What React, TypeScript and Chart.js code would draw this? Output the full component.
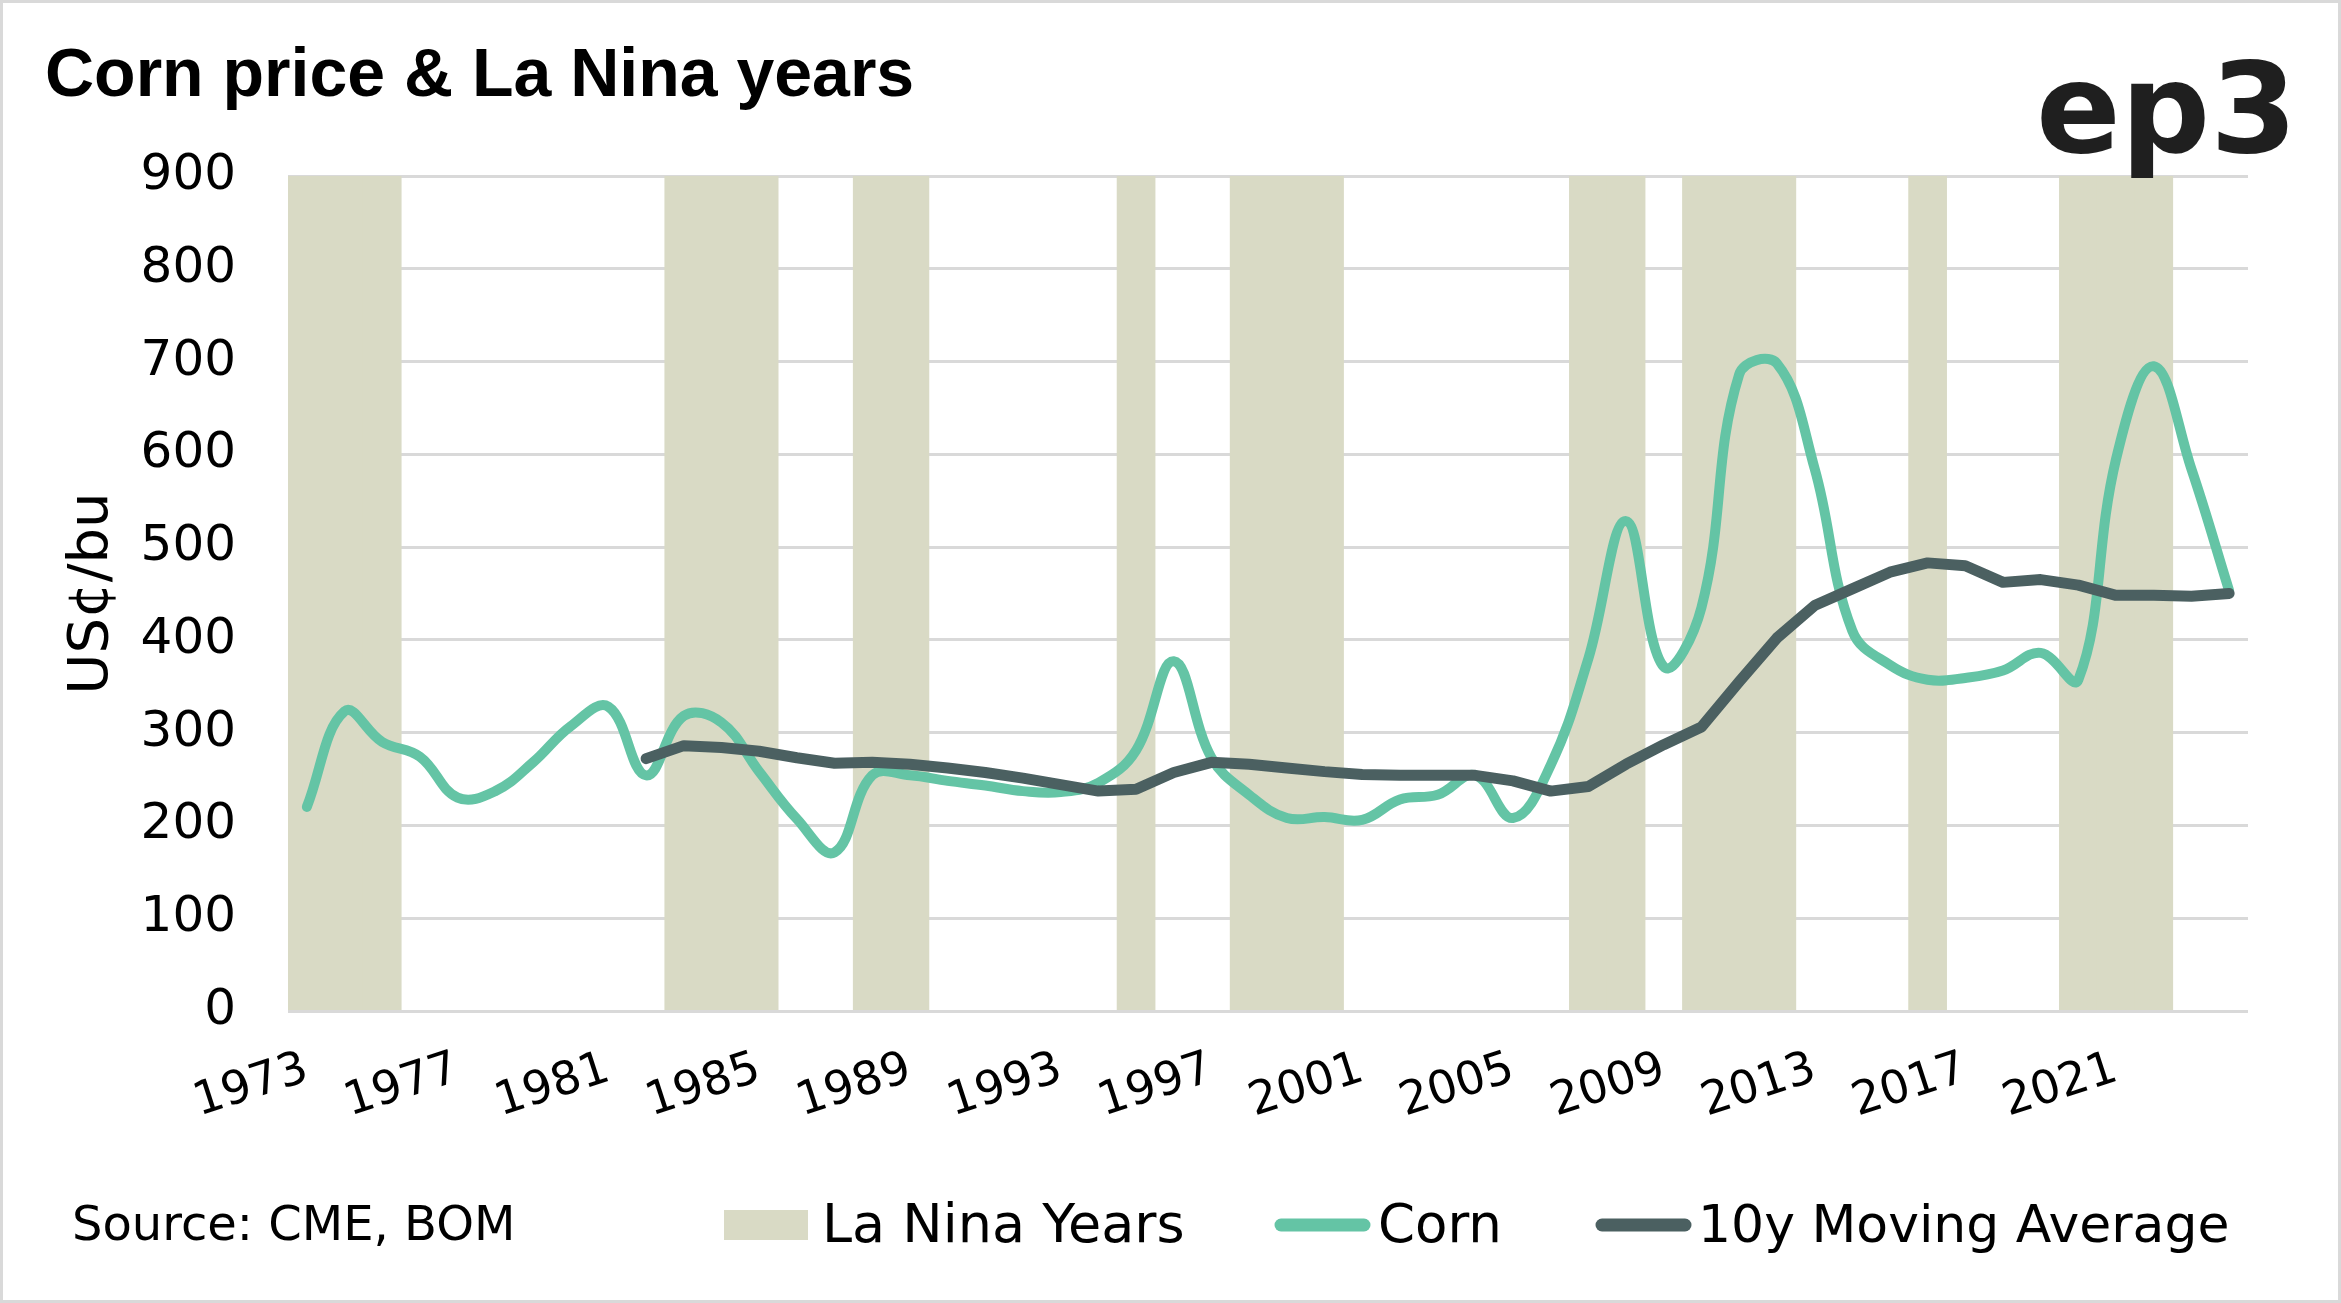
import React, { useEffect, useRef } from 'react';
import { Chart, registerables } from 'chart.js';

Chart.register(...registerables);

const W = 2341;
const H = 1303;

const TITLE = 'Corn price & La Nina years';
const SOURCE = 'Source: CME, BOM';
const LOGO = 'ep3';
const Y_TITLE = 'US¢/bu';

const years = [
  '1973', '1974', '1975', '1976', '1977', '1978', '1979', '1980', '1981', '1982',
  '1983', '1984', '1985', '1986', '1987', '1988', '1989', '1990', '1991', '1992',
  '1993', '1994', '1995', '1996', '1997', '1998', '1999', '2000', '2001', '2002',
  '2003', '2004', '2005', '2006', '2007', '2008', '2009', '2010', '2011', '2012',
  '2013', '2014', '2015', '2016', '2017', '2018', '2019', '2020', '2021', '2022',
  '2023', '2024',
];

const tickYears = [
  '1973', '1977', '1981', '1985', '1989', '1993', '1997', '2001', '2005', '2009',
  '2013', '2017', '2021',
];

const laNinaYears = [
  '1973', '1974', '1975', '1983', '1984', '1985', '1988', '1989', '1995', '1998',
  '1999', '2000', '2007', '2008', '2010', '2011', '2012', '2016', '2020', '2021',
  '2022',
];

const corn = [
  220, 323, 290, 274, 230, 237, 268, 307, 328, 254,
  318, 311, 258, 207, 171, 254, 254, 248, 243, 237,
  236, 246, 281, 377, 273, 233, 208, 209, 206, 228,
  233, 254, 208, 265, 380, 528, 371, 435, 686, 698,
  585, 410, 373, 357, 359, 367, 386, 357, 595, 695,
  584, 453,
];

const movingAvg = [
  null, null, null, null, null, null, null, null, null, 272,
  286, 284, 280, 273, 267, 268, 266, 262, 257, 251,
  244, 237, 239, 257, 268, 266, 262, 258, 255, 254,
  254, 254, 248, 237, 242, 266, 287, 306, 355, 402,
  437, 455, 473, 483, 480, 462, 465, 459, 448, 448,
  447, 450,
];

const Y_MIN = 0;
const Y_MAX = 900;
const Y_STEP = 100;

const BAND = '#d9dac5';
const CORN = '#64c4a5';
const MA = '#4b6061';
const GRID = '#d9d9d9';

const decorPlugin = {
  id: 'decor',
  beforeDraw(chart: any) {
    const ctx = chart.ctx;
    ctx.save();
    ctx.fillStyle = '#ffffff';
    ctx.fillRect(0, 0, chart.width, chart.height);
    ctx.restore();
  },
  afterDraw(chart: any) {
    const ctx = chart.ctx;
    const ds = chart.data.datasets;
    ctx.save();
    // outer frame
    ctx.strokeStyle = GRID;
    ctx.lineWidth = 3;
    ctx.strokeRect(1.5, 1.5, chart.width - 3, chart.height - 3);

    // title
    ctx.fillStyle = '#000000';
    ctx.textBaseline = 'alphabetic';
    ctx.textAlign = 'left';
    ctx.font = 'bold 68px "Liberation Sans"';
    ctx.fillText(TITLE, 45, 96);

    // logo
    ctx.fillStyle = '#1f1f1f';
    ctx.font = 'bold 125px "DejaVu Sans"';
    ctx.fillText(LOGO, 2036, 152);

    // source
    ctx.fillStyle = '#000000';
    ctx.font = '48px "DejaVu Sans"';
    ctx.fillText(SOURCE, 72, 1240);

    // legend
    const bandDs = ds[2];
    const cornDs = ds[1];
    const maDs = ds[0];
    ctx.fillStyle = bandDs.backgroundColor;
    ctx.fillRect(724, 1210, 84, 30);
    ctx.fillStyle = '#000000';
    ctx.font = '54px "DejaVu Sans"';
    ctx.fillText(bandDs.label, 822, 1242);

    ctx.lineCap = 'round';
    ctx.lineWidth = 13;
    ctx.strokeStyle = cornDs.borderColor;
    ctx.beginPath();
    ctx.moveTo(1281, 1225);
    ctx.lineTo(1364, 1225);
    ctx.stroke();
    ctx.font = '53px "DejaVu Sans"';
    ctx.fillText(cornDs.label, 1378, 1242);

    ctx.strokeStyle = maDs.borderColor;
    ctx.beginPath();
    ctx.moveTo(1602, 1225);
    ctx.lineTo(1685, 1225);
    ctx.stroke();
    ctx.font = '52px "DejaVu Sans"';
    ctx.fillText(maDs.label, 1698, 1242);

    ctx.restore();
  },
};

export default function App() {
  const canvasRef = useRef<HTMLCanvasElement | null>(null);

  useEffect(() => {
    document.body.style.margin = '0';
    const canvas = canvasRef.current;
    if (!canvas) return;
    Chart.defaults.font.family = '"DejaVu Sans"';
    Chart.defaults.color = '#000000';

    const bandData = years.map((y) => (laNinaYears.includes(y) ? Y_MAX : null));

    const chart = new Chart(canvas, {
      type: 'bar',
      data: {
        labels: years,
        datasets: [
          {
            type: 'line',
            label: '10y Moving Average',
            data: movingAvg,
            borderColor: MA,
            backgroundColor: MA,
            borderWidth: 11,
            tension: 0,
            pointRadius: 0,
            borderCapStyle: 'round',
            borderJoinStyle: 'round',
            order: 0,
          } as any,
          {
            type: 'line',
            label: 'Corn',
            data: corn,
            borderColor: CORN,
            backgroundColor: CORN,
            borderWidth: 10,
            tension: 0.4,
            pointRadius: 0,
            borderCapStyle: 'round',
            borderJoinStyle: 'round',
            order: 1,
          } as any,
          {
            type: 'bar',
            label: 'La Nina Years',
            data: bandData,
            backgroundColor: BAND,
            borderWidth: 0,
            barPercentage: 1,
            categoryPercentage: 1,
            inflateAmount: 0.5,
            order: 2,
          } as any,
        ],
      },
      options: {
        animation: false,
        responsive: false,
        devicePixelRatio: 1,
        layout: { padding: { top: 176, right: 93, bottom: 0, left: 0 } },
        plugins: {
          legend: { display: false },
          title: { display: false },
          tooltip: { enabled: false },
        },
        scales: {
          x: {
            offset: true,
            grid: { display: false, drawTicks: false },
            border: { display: false },
            ticks: {
              autoSkip: false,
              minRotation: 18,
              maxRotation: 18,
              padding: 31,
              color: '#000000',
              font: { size: 46, family: '"DejaVu Sans"' },
              callback: (_v: any, idx: number) => (tickYears.includes(years[idx]) ? years[idx] : ''),
            },
            afterFit: (s: any) => {
              s.height = H - 1011;
            },
          },
          y: {
            min: Y_MIN,
            max: Y_MAX,
            grid: { color: GRID, lineWidth: 3, drawTicks: false },
            border: { display: false },
            ticks: {
              stepSize: Y_STEP,
              padding: 52,
              color: '#000000',
              font: { size: 50, family: '"DejaVu Sans"' },
            },
            title: {
              display: true,
              text: Y_TITLE,
              color: '#000000',
              font: { size: 56, family: '"DejaVu Sans"' },
              padding: { top: 59, bottom: 0 },
            },
            afterFit: (s: any) => {
              s.width = 288;
            },
          },
        },
      } as any,
      plugins: [decorPlugin],
    });

    return () => {
      chart.destroy();
    };
  }, []);

  return (
    <div style={{ width: W, height: H, position: 'relative' }}>
      <canvas ref={canvasRef} width={W} height={H} style={{ width: W, height: H, display: 'block' }} />
    </div>
  );
}
